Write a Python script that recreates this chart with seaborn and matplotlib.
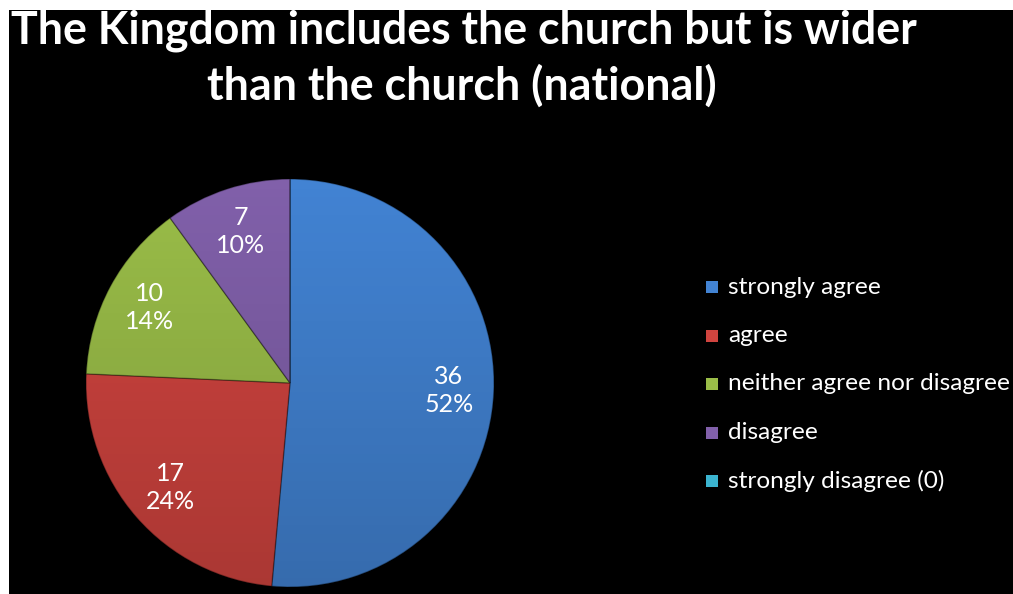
import matplotlib
matplotlib.use("Agg")
import matplotlib.pyplot as plt
import matplotlib.patches as mpatches
import numpy as np
import seaborn as sns

# Survey responses
categories = ["strongly agree", "agree", "neither agree nor disagree",
              "disagree", "strongly disagree (0)"]
counts = [36, 17, 10, 7, 0]
percent_labels = ["52%", "24%", "14%", "10%", "0%"]
title_text = "The Kingdom includes the church but is wider\nthan the church (national)"

sns.set_style("dark")
palette = sns.color_palette(["#4283d3", "#d0443f", "#9abd48", "#8160aa", "#3bb4d0"])
plt.rcParams["font.family"] = ["Lato", "DejaVu Sans"]

W, H = 1013, 594
fig = plt.figure(figsize=(W / 100, H / 100), dpi=100, facecolor="white")

# black panel with a thin white margin on the left and top
bg = fig.add_axes([9 / W, 0, 1 - 9 / W, 1 - 10 / H])
bg.set_facecolor("black")
bg.set_xticks([]); bg.set_yticks([])
for s in bg.spines.values():
    s.set_visible(False)

cx, cy, r = 290, 383, 204
ax = fig.add_axes([(cx - r) / W, (H - cy - r) / H, 2 * r / W, 2 * r / H])
ax.set_facecolor("none")
ax.axis("off")

wedges, _ = ax.pie(counts, colors=palette, startangle=90, counterclock=False,
                   radius=1.0,
                   wedgeprops=dict(edgecolor=(0, 0, 0, 0.3), linewidth=1.0))
ax.set_xlim(-1.0, 1.0)
ax.set_ylim(-1.0, 1.0)
ax.set_aspect("equal")

# soft top-to-bottom shading over the pie
shade = np.zeros((256, 2, 4))
t = np.linspace(0, 1, 256)[:, None]
shade[..., 3] = (0.18 * t)
img = ax.imshow(shade, extent=(-1, 1, -1, 1), origin="upper", aspect="auto",
                zorder=3, interpolation="bilinear")
clip = mpatches.Circle((0, 0), 1.0, transform=ax.transData)
img.set_clip_path(clip)
ax.set_xlim(-1.0, 1.0)
ax.set_ylim(-1.0, 1.0)

# value / percentage labels inside each non-empty wedge
for w, c, p in zip(wedges, counts, percent_labels):
    if c == 0:
        continue
    mid = np.deg2rad((w.theta1 + w.theta2) / 2)
    d = 0.78
    ax.text(d * np.cos(mid), d * np.sin(mid), f"{c}\n{p}", color="white",
            ha="center", va="center", fontsize=18, linespacing=1.25, zorder=4)

line1, line2 = title_text.split("\n")
fig.text(11 / W, 1 - 43 / H, line1, color="white",
         fontsize=32.1, fontweight="bold", ha="left", va="baseline")
fig.text(462 / W, 1 - 100 / H, line2, color="white",
         fontsize=32.3, fontweight="bold", ha="center", va="baseline")

# legend
y0, dy = 287, 48.5
for i, (cat, col) in enumerate(zip(categories, palette)):
    y = y0 + i * dy
    fig.patches.append(mpatches.Rectangle((706 / W, (H - y - 6) / H), 12 / W, 12 / H,
                                          transform=fig.transFigure, facecolor=col,
                                          edgecolor="none"))
    fig.text(728 / W, 1 - y / H, cat, color="white", fontsize=17.6,
             ha="left", va="center")

fig.savefig("out.png", dpi=100, facecolor="white")
